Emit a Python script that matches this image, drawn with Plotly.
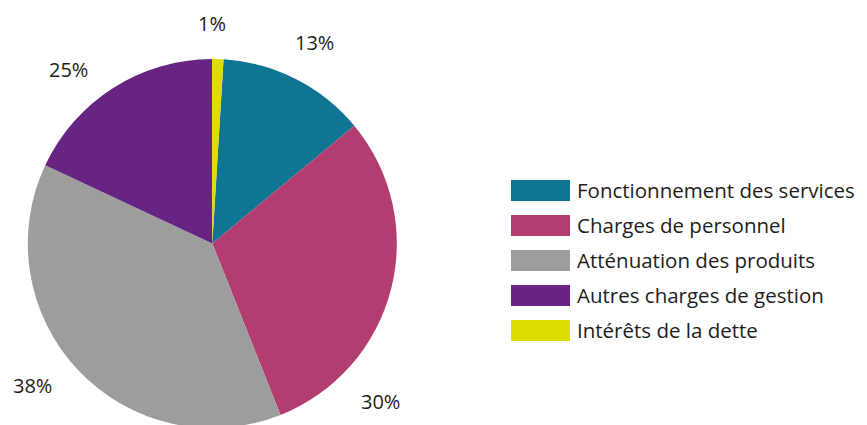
import math
import plotly.graph_objects as go

categories = ["Fonctionnement des services", "Charges de personnel",
              "Atténuation des produits", "Autres charges de gestion",
              "Intérêts de la dette"]
values = [13, 30, 38, 18, 1]
value_labels = ["13%", "30%", "38%", "25%", "1%"]
colors = ["#0f7592", "#b33d70", "#9d9d9c", "#672483", "#dedc00"]

W, H = 867, 425
OFF = 8  # default body margin of the page
FONT = "Open Sans"
TXT = "#1d1d1b"

ROT = 3.5
cx, cy, r = 212.3 - OFF, 243.5 - OFF, 184.5

fig = go.Figure(go.Pie(
    labels=categories, values=values, text=value_labels,
    textinfo="none",
    marker=dict(colors=colors, line=dict(width=0)),
    sort=False, direction="clockwise", rotation=ROT,
    showlegend=False, hoverinfo="label+text",
    domain=dict(x=[(cx - r) / W, (cx + r) / W],
                y=[max(0, (H - cy - r) / H), (H - cy + r) / H]),
))

annots, shapes = [], []

# percentage labels placed outside each slice, at the slice mid-angle
label_radius = [225, 231, 229, 226, 220]
label_nudge = [0, 29, 5, -7, -1.8]
total = sum(values)
start = ROT
for v, t, lr, nd in zip(values, value_labels, label_radius, label_nudge):
    span = 360 * v / total
    ang = math.radians(start + span / 2 + nd)
    start += span
    px = cx + lr * math.sin(ang)
    py = cy - lr * math.cos(ang)
    annots.append(dict(xref="paper", yref="paper", x=px / W, y=1 - py / H,
                       xanchor="center", yanchor="middle", showarrow=False, text=t,
                       font=dict(family=FONT, size=20, color=TXT)))

# legend
for i, (cat, col) in enumerate(zip(categories, colors)):
    top = 180 + 35 * i - OFF
    shapes.append(dict(type="rect", xref="paper", yref="paper",
                       x0=(511 - OFF) / W, x1=(570 - OFF) / W,
                       y0=1 - (top + 21) / H, y1=1 - top / H,
                       fillcolor=col, line=dict(width=0)))
    annots.append(dict(xref="paper", yref="paper", x=(575 - OFF) / W, y=1 - (top + 10) / H,
                       xanchor="left", yanchor="middle", showarrow=False, text=cat,
                       font=dict(family=FONT, size=20.5, color=TXT)))

fig.update_layout(width=W, height=H, margin=dict(l=0, r=0, t=0, b=0),
                  paper_bgcolor="white", plot_bgcolor="white",
                  shapes=shapes, annotations=annots)
fig.write_html("out.html")
